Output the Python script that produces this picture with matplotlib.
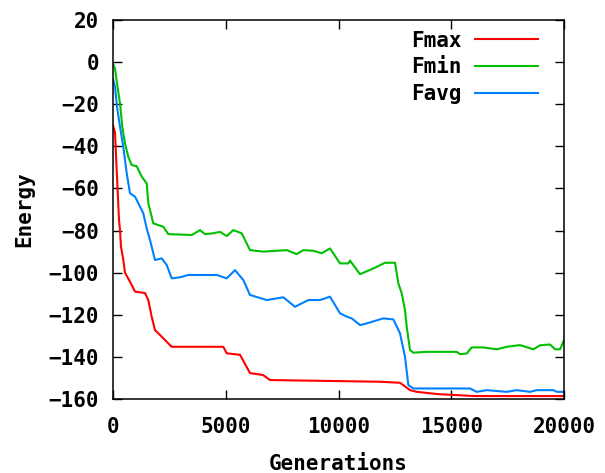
import matplotlib
matplotlib.use("Agg")
import matplotlib.pyplot as plt

fmax_x = [0, 89, 177, 266, 310, 355, 457, 532, 754, 976, 1419, 1566, 1716, 1863, 2084,
          2306, 2603, 4892, 5043, 5632, 6076, 6653, 6963, 11841, 12728, 13172, 13469,
          14427, 16055, 20000]
fmax_y = [-30, -33.5, -54.4, -75, -79.8, -87.7, -94, -100, -104.3, -109, -109.7, -113,
          -121, -127.3, -129.6, -132, -135.2, -135.2, -138.3, -139, -147.7, -148.6, -151,
          -151.8, -152.3, -155.8, -156.6, -157.7, -158.6, -158.6]

fmin_x = [0, 89, 177, 310, 412, 532, 679, 829, 1051, 1273, 1495, 1566, 1787, 2231, 2453,
          3490, 3858, 4080, 4448, 4745, 5043, 5335, 5708, 6076, 6666, 7704, 8147, 8440,
          8883, 9256, 9624, 10067, 10436, 10511, 10954, 11544, 12063, 12507, 12653, 12804,
          12950, 13025, 13172, 13318, 13913, 15243, 15389, 15686, 15908, 16423, 17017,
          17461, 18051, 18640, 18937, 19381, 19603, 19825, 20000]
fmin_y = [-1, -3, -10, -19.6, -30.7, -38.6, -45, -48.9, -49.4, -54.4, -57.6, -67, -76.6,
          -78.2, -81.7, -82.1, -79.8, -81.7, -81.3, -80.6, -82.6, -79.8, -81.3, -89.3, -90,
          -89.3, -91.2, -89.3, -89.6, -90.8, -88.5, -95.6, -95.6, -94.3, -100.7, -98, -95.3,
          -95.3, -105.1, -109.8, -117.8, -125.7, -136.8, -138, -137.6, -137.6, -138.7,
          -138.4, -135.5, -135.5, -136.4, -135.2, -134.4, -136.4, -134.5, -134.1, -136.4,
          -136.4, -132]

favg_x = [0, 89, 177, 310, 457, 608, 754, 976, 1122, 1344, 1495, 1641, 1863, 2160, 2382,
          2603, 2971, 3340, 4599, 5043, 5411, 5779, 6076, 6817, 7553, 8072, 8662, 9180,
          9624, 10067, 10364, 10586, 10954, 11251, 11988, 12431, 12728, 12950, 13097,
          13318, 15833, 16130, 16574, 17461, 17904, 18494, 18791, 19528, 19678, 20000]
favg_y = [-8, -11.7, -21.2, -30.7, -40.2, -52.8, -62.3, -63.9, -67, -71.8, -79, -84.5, -94,
          -93.2, -96.4, -102.7, -102.2, -101.1, -101.1, -102.7, -98.8, -103.5, -110.6, -113,
          -111.7, -116.2, -113, -113, -111.4, -119.3, -120.9, -121.7, -124.9, -124.1, -121.7,
          -122.2, -128.8, -140, -153.4, -155, -155, -156.6, -155.8, -156.6, -155.8, -156.6,
          -155.8, -155.8, -156.6, -156.6]

x_ticks = [0, 5000, 10000, 15000, 20000]
y_ticks = [20, 0, -20, -40, -60, -80, -100, -120, -140, -160]

font = dict(family="DejaVu Sans Mono", weight="bold", size=15)

fig = plt.figure(figsize=(6.05, 4.73), dpi=100)
ax = fig.add_axes([113/605, 1-399/473, (564-113)/605, (399-20)/473])

ax.plot(fmax_x, fmax_y, color="#ff0000", lw=1.5, label="Fmax")
ax.plot(fmin_x, fmin_y, color="#00c000", lw=1.5, label="Fmin")
ax.plot(favg_x, favg_y, color="#0080ff", lw=1.5, label="Favg")

ax.set_xlim(0, 20000)
ax.set_ylim(-160, 20)
ax.set_xticks(x_ticks)
ax.set_yticks(y_ticks)
ax.tick_params(direction="in", length=6.5, width=1, top=True, right=True,
               labelsize=15, pad=10, colors="black")
ax.tick_params(axis="x", pad=13)
for lab in ax.get_xticklabels() + ax.get_yticklabels():
    lab.set_fontfamily("DejaVu Sans Mono")
    lab.set_fontweight("bold")
for s in ax.spines.values():
    s.set_linewidth(1.1)

ax.set_xlabel("Generations", fontdict=font, labelpad=12)
ax.set_ylabel("Energy", fontdict=font, labelpad=10)

leg = ax.legend(loc="upper right", bbox_to_anchor=(0.942, 0.972), markerfirst=False,
                frameon=False, prop=dict(family="DejaVu Sans Mono", weight="bold", size=15),
                handlelength=3.0, handletextpad=0.67, labelspacing=0.32, borderpad=0,
                borderaxespad=0)

fig.savefig("out.png", dpi=100)
